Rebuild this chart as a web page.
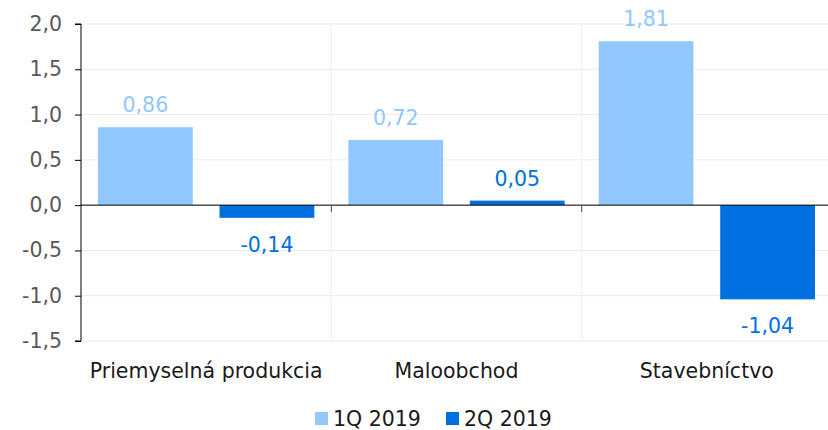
<!DOCTYPE html>
<html>
<head>
<meta charset="utf-8">
<script src="https://cdn.jsdelivr.net/npm/d3@7"></script>
<style>
  body { margin: 0; background: #fff; }
  text { font-family: "DejaVu Sans", Verdana, sans-serif; }
</style>
</head>
<body>
<div id="chart"></div>
<script>
// Data
const categories = ["Priemyselná produkcia", "Maloobchod", "Stavebníctvo"];
const seriesNames = ["1Q 2019", "2Q 2019"];
const q1Values = [0.86, 0.72, 1.81];
const q2Values = [-0.14, 0.05, -1.04];
const yTicks = [-1.5, -1.0, -0.5, 0, 0.5, 1.0, 1.5, 2.0];
const colors = ["#90C8FF", "#0070E0"];

const width = 828;
const height = 430;
const margin = { top: 24, right: -4, bottom: 89, left: 81 };
const fontSize = 20.5;

const svg = d3
  .select("#chart")
  .append("svg")
  .attr("width", width)
  .attr("height", height);

// comma decimals, plain hyphen for minus
const fmt = (v, d) => d3.format("." + d + "f")(v).replace(".", ",").replace("\u2212", "-");

// Scales
const x = d3
  .scaleBand()
  .domain(categories)
  .range([margin.left, width - margin.right]);

const x1 = d3
  .scaleBand()
  .domain(seriesNames)
  .range([0, x.bandwidth()])
  .paddingInner(0.22)
  .paddingOuter(0.14);

const y = d3
  .scaleLinear()
  .domain([-1.5, 2.0])
  .range([height - margin.bottom, margin.top]);

// Horizontal gridlines
svg
  .append("g")
  .selectAll("line")
  .data(yTicks)
  .join("line")
  .attr("x1", margin.left)
  .attr("x2", width)
  .attr("y1", (d) => y(d))
  .attr("y2", (d) => y(d))
  .attr("stroke", "#ebebeb")
  .attr("stroke-width", 1);

// Vertical gridlines between categories
svg
  .append("g")
  .selectAll("line")
  .data(categories.slice(1))
  .join("line")
  .attr("x1", (d) => x(d))
  .attr("x2", (d) => x(d))
  .attr("y1", margin.top)
  .attr("y2", height - margin.bottom)
  .attr("stroke", "#f0f0f0");

// Bars
const rows = categories.map((c, i) => ({ cat: c, vals: [q1Values[i], q2Values[i]] }));

const groups = svg
  .append("g")
  .selectAll("g")
  .data(rows)
  .join("g")
  .attr("transform", (d) => `translate(${x(d.cat)},0)`);

groups
  .selectAll("rect")
  .data((d) => d.vals.map((v, j) => ({ name: seriesNames[j], v, j })))
  .join("rect")
  .attr("x", (d) => x1(d.name))
  .attr("width", x1.bandwidth())
  .attr("y", (d) => y(Math.max(0, d.v)))
  .attr("height", (d) => Math.abs(y(d.v) - y(0)))
  .attr("fill", (d) => colors[d.j]);

// Value labels
groups
  .selectAll("text")
  .data((d) => d.vals.map((v, j) => ({ name: seriesNames[j], v, j })))
  .join("text")
  .attr("x", (d) => x1(d.name) + x1.bandwidth() / 2)
  .attr("y", (d) => (d.v >= 0 ? y(d.v) - 15 : y(d.v) + 34))
  .attr("text-anchor", "middle")
  .attr("font-size", fontSize)
  .attr("fill", (d) => colors[d.j])
  .text((d) => fmt(d.v, 2));

// Zero line
svg
  .append("line")
  .attr("x1", margin.left)
  .attr("x2", width)
  .attr("y1", y(0))
  .attr("y2", y(0))
  .attr("stroke", "#000")
  .attr("stroke-width", 1);

// Category tick marks on zero line
svg
  .append("g")
  .selectAll("line")
  .data(categories.slice(1))
  .join("line")
  .attr("x1", (d) => x(d))
  .attr("x2", (d) => x(d))
  .attr("y1", y(0))
  .attr("y2", y(0) + 7)
  .attr("stroke", "#444");

// Y axis
const yAxis = svg
  .append("g")
  .attr("transform", `translate(${margin.left},0)`)
  .call(
    d3
      .axisLeft(y)
      .tickValues(yTicks)
      .tickSize(6)
      .tickPadding(13)
      .tickFormat((d) => fmt(d, 1))
  );
yAxis.select(".domain").attr("stroke", "#000").attr("d", `M-6,${y(2)}H0V${y(-1.5)}H-6`);
yAxis.selectAll(".tick line").attr("stroke", "#000");
yAxis
  .selectAll(".tick text")
  .attr("font-size", fontSize)
  .attr("fill", "#595959")
  .attr("font-family", "DejaVu Sans, Verdana, sans-serif");

// Category labels
svg
  .append("g")
  .selectAll("text")
  .data(categories)
  .join("text")
  .attr("x", (d) => x(d) + x.bandwidth() / 2)
  .attr("y", 378)
  .attr("text-anchor", "middle")
  .attr("font-size", fontSize)
  .attr("fill", "#1a1a1a")
  .text((d) => d);

// Legend
const legend = svg.append("g").attr("transform", "translate(315,426)");
const legendX = [0, 131];
seriesNames.forEach((name, i) => {
  const g = legend.append("g").attr("transform", `translate(${legendX[i]},0)`);
  g.append("rect")
    .attr("x", 0)
    .attr("y", -14)
    .attr("width", 13)
    .attr("height", 13)
    .attr("fill", colors[i]);
  g.append("text")
    .attr("x", 18)
    .attr("y", 0)
    .attr("font-size", fontSize)
    .attr("fill", "#1a1a1a")
    .text(name);
});
</script>
</body>
</html>
